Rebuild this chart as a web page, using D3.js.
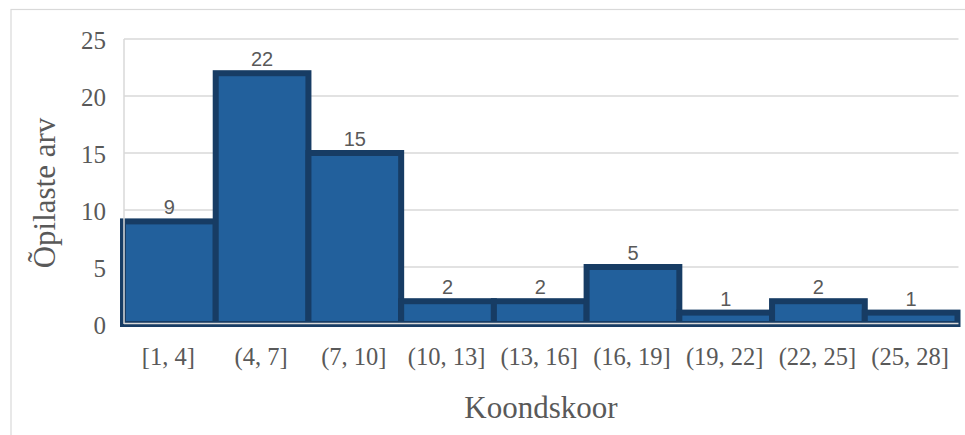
<!DOCTYPE html>
<html>
<head>
<meta charset="utf-8">
<script src="https://cdn.jsdelivr.net/npm/d3@7"></script>
<style>
  html, body { margin: 0; padding: 0; background: #fff; }
  svg { display: block; }
</style>
</head>
<body>
<svg id="chart" width="965" height="435"></svg>
<script>
// Score bins and student counts
const bins = ["[1, 4]", "(4, 7]", "(7, 10]", "(10, 13]", "(13, 16]", "(16, 19]", "(19, 22]", "(22, 25]", "(25, 28]"];
const counts = [9, 22, 15, 2, 2, 5, 1, 2, 1];
const yTicks = [0, 5, 10, 15, 20, 25];
const xTitle = "Koondskoor";
const yTitle = "Õpilaste arv";

const svg = d3.select("#chart");
const serif = "'Liberation Serif', 'Times New Roman', serif";
const sans = "'Liberation Sans', Arial, sans-serif";
const gridColor = "#d9d9d9";
const textColor = "#595959";

// Outer chart frame
svg.append("rect")
  .attr("x", 11).attr("y", 9.5)
  .attr("width", 1000).attr("height", 500)
  .attr("fill", "none").attr("stroke", gridColor).attr("stroke-width", 1.2);

const plot = { left: 124, right: 958.5, top: 39, bottom: 324 };

const x = d3.scaleBand().domain(bins).range([123, 957.5]).paddingInner(0).paddingOuter(0);
const y = d3.scaleLinear().domain([0, 25]).range([plot.bottom, plot.top]);

// Horizontal gridlines
svg.append("g")
  .selectAll("line")
  .data(yTicks.filter(t => t > 0))
  .join("line")
  .attr("x1", plot.left).attr("x2", plot.right)
  .attr("y1", d => y(d)).attr("y2", d => y(d))
  .attr("stroke", gridColor).attr("stroke-width", 1.5);

// Histogram bars
svg.append("g")
  .selectAll("rect")
  .data(bins.map((b, i) => ({ bin: b, value: counts[i] })))
  .join("rect")
  .attr("x", d => x(d.bin))
  .attr("width", x.bandwidth())
  .attr("y", d => y(d.value))
  .attr("height", d => y(0) - y(d.value))
  .attr("fill", "#22609c")
  .attr("stroke", "#173c64")
  .attr("stroke-width", 6);

// Axis lines drawn over the bars
svg.append("line")
  .attr("x1", plot.left).attr("x2", plot.left)
  .attr("y1", plot.top).attr("y2", y(0))
  .attr("stroke", gridColor).attr("stroke-width", 1.5);
svg.append("line")
  .attr("x1", plot.left).attr("x2", plot.right)
  .attr("y1", y(0) - 0.5).attr("y2", y(0) - 0.5)
  .attr("stroke", gridColor).attr("stroke-width", 1.5);

// Value labels above bars
svg.append("g")
  .selectAll("text")
  .data(bins.map((b, i) => ({ bin: b, value: counts[i] })))
  .join("text")
  .attr("x", d => x(d.bin) + x.bandwidth() / 2)
  .attr("y", d => y(d.value) - 7)
  .attr("text-anchor", "middle")
  .attr("font-family", sans)
  .attr("font-size", 20)
  .attr("fill", textColor)
  .text(d => d.value);

// Y tick labels
svg.append("g")
  .selectAll("text")
  .data(yTicks)
  .join("text")
  .attr("x", 106)
  .attr("y", d => y(d) + 10)
  .attr("text-anchor", "end")
  .attr("font-family", serif)
  .attr("font-size", 25)
  .attr("fill", textColor)
  .text(d => d);

// X category labels
svg.append("g")
  .selectAll("text")
  .data(bins)
  .join("text")
  .attr("x", d => x(d) + x.bandwidth() / 2 - 1)
  .attr("y", 365)
  .attr("text-anchor", "middle")
  .attr("font-family", serif)
  .attr("font-size", 24.5)
  .attr("fill", textColor)
  .text(d => d);

// Axis titles
svg.append("text")
  .attr("x", 541).attr("y", 418)
  .attr("text-anchor", "middle")
  .attr("font-family", serif)
  .attr("font-size", 31)
  .attr("fill", textColor)
  .text(xTitle);

svg.append("text")
  .attr("transform", "translate(55,193) rotate(-90)")
  .attr("text-anchor", "middle")
  .attr("font-family", serif)
  .attr("font-size", 31)
  .attr("fill", textColor)
  .text(yTitle);
</script>
</body>
</html>
